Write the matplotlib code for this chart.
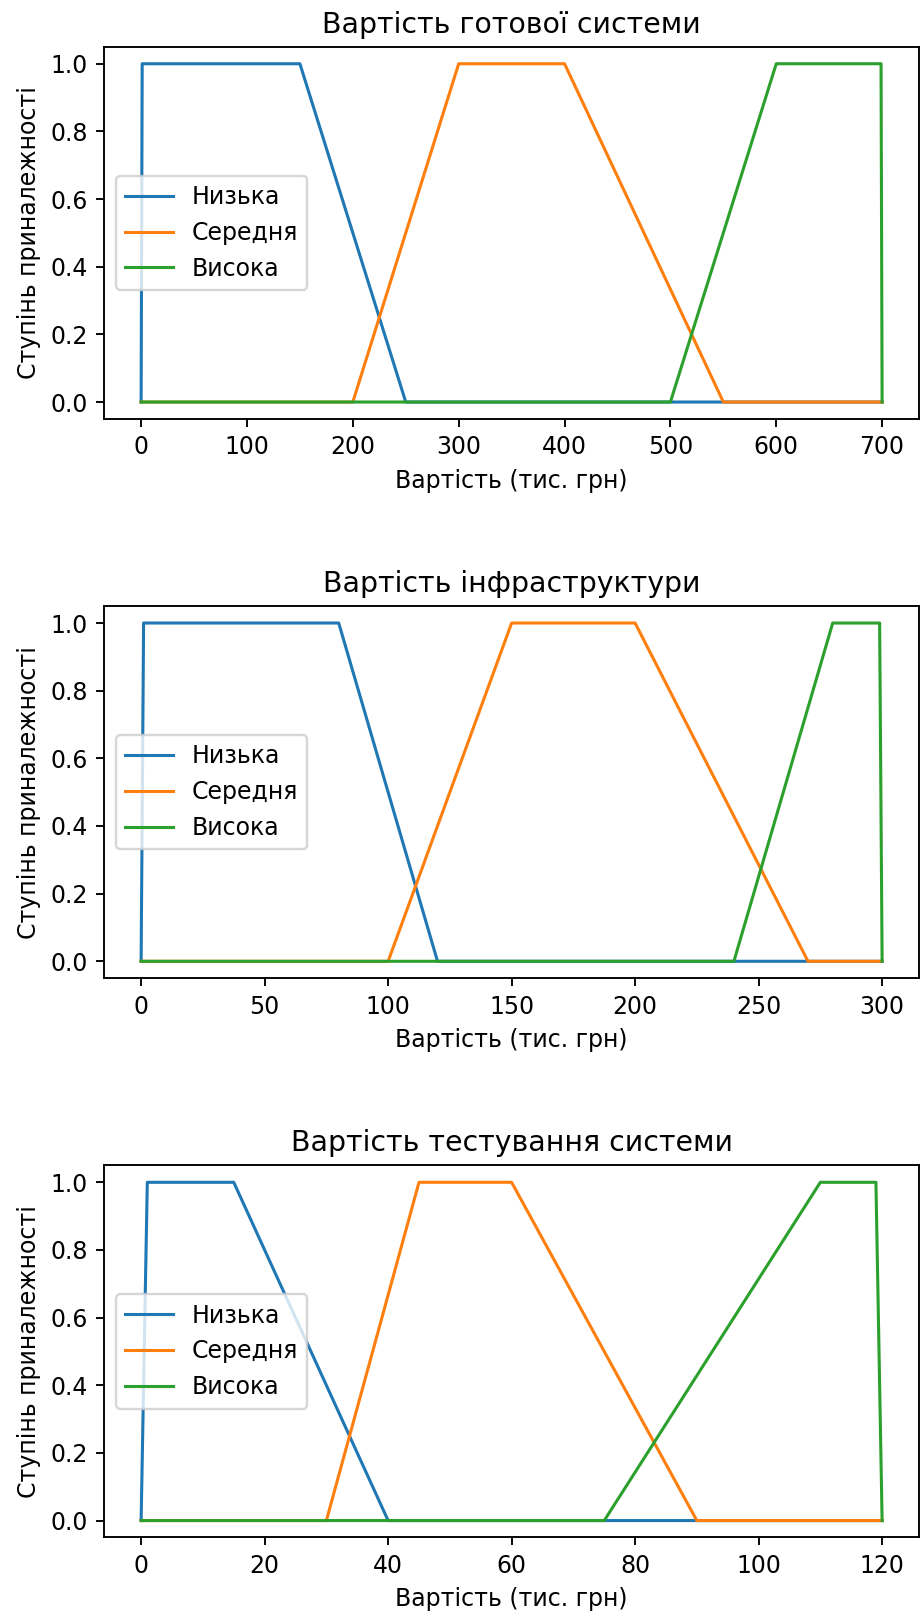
import matplotlib
matplotlib.use("Agg")
import matplotlib.pyplot as plt

titles = ["Вартість готової системи", "Вартість інфраструктури", "Вартість тестування системи"]
labels = ["Низька", "Середня", "Висока"]

# chart 1: x 0..700
x1_low = [0, 1, 150, 250, 700]
y1_low = [0, 1, 1, 0, 0]
x1_mid = [0, 200, 300, 400, 550, 700]
y1_mid = [0, 0, 1, 1, 0, 0]
x1_high = [0, 500, 600, 699, 700]
y1_high = [0, 0, 1, 1, 0]

# chart 2: x 0..300
x2_low = [0, 1, 80, 120, 300]
y2_low = [0, 1, 1, 0, 0]
x2_mid = [0, 100, 150, 200, 270, 300]
y2_mid = [0, 0, 1, 1, 0, 0]
x2_high = [0, 240, 280, 299, 300]
y2_high = [0, 0, 1, 1, 0]

# chart 3: x 0..120
x3_low = [0, 1, 15, 40, 120]
y3_low = [0, 1, 1, 0, 0]
x3_mid = [0, 30, 45, 60, 90, 120]
y3_mid = [0, 0, 1, 1, 0, 0]
x3_high = [0, 75, 110, 119, 120]
y3_high = [0, 0, 1, 1, 0]

charts = [
    [(x1_low, y1_low), (x1_mid, y1_mid), (x1_high, y1_high)],
    [(x2_low, y2_low), (x2_mid, y2_mid), (x2_high, y2_high)],
    [(x3_low, y3_low), (x3_mid, y3_mid), (x3_high, y3_high)],
]

fig, axes = plt.subplots(3, 1, figsize=(921 / 170, 1615 / 170), dpi=170)
fig.subplots_adjust(left=0.113, right=0.998, top=0.971, bottom=0.048, hspace=0.503)

for ax, title, series in zip(axes, titles, charts):
    for (xs, ys), lab in zip(series, labels):
        ax.plot(xs, ys, label=lab, lw=1.3)
    ax.set_title(title)
    ax.set_xlabel("Вартість (тис. грн)")
    ax.set_ylabel("Ступінь приналежності")
    ax.legend(loc="center left")

plt.savefig("out.png")
